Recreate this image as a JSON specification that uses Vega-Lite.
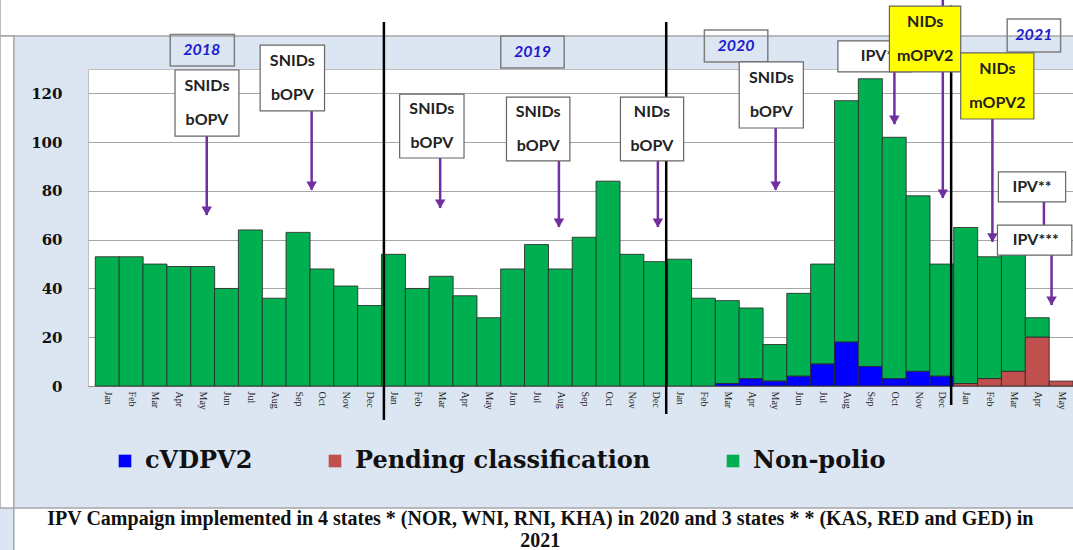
{
  "$schema": "https://vega.github.io/schema/vega-lite/v6.json",
  "autosize": {"type": "none"},
  "width": 985,
  "height": 317,
  "padding": {"left": 88, "top": 69, "right": 0, "bottom": 164},
  "background": "#dce6f2",
  "config": {
    "view": {"fill": "white", "stroke": "#bfbfbf"},
    "axis": {"labelOverlap": false},
    "axisX": {"labelOverlap": false, "labelBound": false, "labelFlush": false}
  },
  "datasets": {
    "cases": [
      {"month": "2018-01", "t": 0, "cat": "Non-polio", "n": 53},
      {"month": "2018-02", "t": 1, "cat": "Non-polio", "n": 53},
      {"month": "2018-03", "t": 2, "cat": "Non-polio", "n": 50},
      {"month": "2018-04", "t": 3, "cat": "Non-polio", "n": 49},
      {"month": "2018-05", "t": 4, "cat": "Non-polio", "n": 49},
      {"month": "2018-06", "t": 5, "cat": "Non-polio", "n": 40},
      {"month": "2018-07", "t": 6, "cat": "Non-polio", "n": 64},
      {"month": "2018-08", "t": 7, "cat": "Non-polio", "n": 36},
      {"month": "2018-09", "t": 8, "cat": "Non-polio", "n": 63},
      {"month": "2018-10", "t": 9, "cat": "Non-polio", "n": 48},
      {"month": "2018-11", "t": 10, "cat": "Non-polio", "n": 41},
      {"month": "2018-12", "t": 11, "cat": "Non-polio", "n": 33},
      {"month": "2019-01", "t": 12, "cat": "Non-polio", "n": 54},
      {"month": "2019-02", "t": 13, "cat": "Non-polio", "n": 40},
      {"month": "2019-03", "t": 14, "cat": "Non-polio", "n": 45},
      {"month": "2019-04", "t": 15, "cat": "Non-polio", "n": 37},
      {"month": "2019-05", "t": 16, "cat": "Non-polio", "n": 28},
      {"month": "2019-06", "t": 17, "cat": "Non-polio", "n": 48},
      {"month": "2019-07", "t": 18, "cat": "Non-polio", "n": 58},
      {"month": "2019-08", "t": 19, "cat": "Non-polio", "n": 48},
      {"month": "2019-09", "t": 20, "cat": "Non-polio", "n": 61},
      {"month": "2019-10", "t": 21, "cat": "Non-polio", "n": 84},
      {"month": "2019-11", "t": 22, "cat": "Non-polio", "n": 54},
      {"month": "2019-12", "t": 23, "cat": "Non-polio", "n": 51},
      {"month": "2020-01", "t": 24, "cat": "Non-polio", "n": 52},
      {"month": "2020-02", "t": 25, "cat": "Non-polio", "n": 36},
      {"month": "2020-03", "t": 26, "cat": "Non-polio", "n": 34},
      {"month": "2020-03", "t": 26, "cat": "cVDPV2", "n": 1},
      {"month": "2020-04", "t": 27, "cat": "Non-polio", "n": 29},
      {"month": "2020-04", "t": 27, "cat": "cVDPV2", "n": 3},
      {"month": "2020-05", "t": 28, "cat": "Non-polio", "n": 15},
      {"month": "2020-05", "t": 28, "cat": "cVDPV2", "n": 2},
      {"month": "2020-06", "t": 29, "cat": "Non-polio", "n": 34},
      {"month": "2020-06", "t": 29, "cat": "cVDPV2", "n": 4},
      {"month": "2020-07", "t": 30, "cat": "Non-polio", "n": 41},
      {"month": "2020-07", "t": 30, "cat": "cVDPV2", "n": 9},
      {"month": "2020-08", "t": 31, "cat": "Non-polio", "n": 99},
      {"month": "2020-08", "t": 31, "cat": "cVDPV2", "n": 18},
      {"month": "2020-09", "t": 32, "cat": "Non-polio", "n": 118},
      {"month": "2020-09", "t": 32, "cat": "cVDPV2", "n": 8},
      {"month": "2020-10", "t": 33, "cat": "Non-polio", "n": 99},
      {"month": "2020-10", "t": 33, "cat": "cVDPV2", "n": 3},
      {"month": "2020-11", "t": 34, "cat": "Non-polio", "n": 72},
      {"month": "2020-11", "t": 34, "cat": "cVDPV2", "n": 6},
      {"month": "2020-12", "t": 35, "cat": "Non-polio", "n": 46},
      {"month": "2020-12", "t": 35, "cat": "cVDPV2", "n": 4},
      {"month": "2021-01", "t": 36, "cat": "Non-polio", "n": 64},
      {"month": "2021-01", "t": 36, "cat": "Pending classification", "n": 1},
      {"month": "2021-02", "t": 37, "cat": "Non-polio", "n": 50},
      {"month": "2021-02", "t": 37, "cat": "Pending classification", "n": 3},
      {"month": "2021-03", "t": 38, "cat": "Non-polio", "n": 48},
      {"month": "2021-03", "t": 38, "cat": "Pending classification", "n": 6},
      {"month": "2021-04", "t": 39, "cat": "Non-polio", "n": 8},
      {"month": "2021-04", "t": 39, "cat": "Pending classification", "n": 20},
      {"month": "2021-05", "t": 40, "cat": "Pending classification", "n": 2}
    ],
    "frame": [
      {"t1": -4.5, "t2": 41, "v1": 143.5, "v2": 175},
      {"t1": -4.5, "t2": -3.92, "v1": -50, "v2": 143.5},
      {"t1": -3.92, "t2": 41, "v1": -80, "v2": -50.03}
    ],
    "yearLines": [
      {"t": 11.6, "top": 149.3, "bottom": -13.9},
      {"t": 23.44, "top": 149.3, "bottom": -11.5},
      {"t": 35.39, "top": 156, "bottom": -7.8}
    ],
    "arrows": [
      {"t": 4.17, "from": 102.5, "to": 70.1},
      {"t": 8.57, "from": 112.8, "to": 80.4},
      {"t": 13.96, "from": 93.5, "to": 73.0},
      {"t": 18.94, "from": 92.3, "to": 65.2},
      {"t": 23.09, "from": 92.3, "to": 65.2},
      {"t": 28.03, "from": 105.8, "to": 80.4},
      {"t": 33.01, "from": 130.0, "to": 107.4},
      {"t": 35.04, "from": 158.3, "to": 77.1},
      {"t": 37.12, "from": 109.5, "to": 59.1},
      {"t": 39.28, "from": 75.5, "to": 60.0},
      {"t": 39.6, "from": 53.7, "to": 33.2}
    ],
    "years": [
      {"year": "2018", "t1": 2.64, "t2": 5.33, "v1": 131.2, "v2": 144.1, "tc": 3.96, "vc": 137.7},
      {"year": "2019", "t1": 16.5, "t2": 19.16, "v1": 130.4, "v2": 143.5, "tc": 17.83, "vc": 137.0},
      {"year": "2020", "t1": 25.04, "t2": 27.7, "v1": 132.9, "v2": 146.0, "tc": 26.37, "vc": 139.4},
      {"year": "2021", "t1": 37.74, "t2": 39.98, "v1": 137.0, "v2": 150.5, "tc": 38.86, "vc": 143.8}
    ],
    "campaigns": [
      {"label": "SNIDs\nbOPV", "t1": 2.84, "t2": 5.52, "v1": 102.5, "v2": 129.6, "tc": 4.18, "vc": 123.0},
      {"label": "SNIDs\nbOPV", "t1": 6.41, "t2": 9.11, "v1": 112.8, "v2": 139.8, "tc": 7.76, "vc": 133.3},
      {"label": "SNIDs\nbOPV", "t1": 12.26, "t2": 14.96, "v1": 93.5, "v2": 119.7, "tc": 13.61, "vc": 113.6},
      {"label": "SNIDs\nbOPV", "t1": 16.74, "t2": 19.4, "v1": 92.3, "v2": 118.5, "tc": 18.07, "vc": 112.4},
      {"label": "NIDs\nbOPV", "t1": 21.52, "t2": 24.17, "v1": 92.3, "v2": 118.5, "tc": 22.84, "vc": 112.4},
      {"label": "SNIDs\nbOPV", "t1": 26.5, "t2": 29.19, "v1": 105.8, "v2": 132.9, "tc": 27.85, "vc": 126.2},
      {"label": "IPV*", "t1": 30.64, "t2": 33.72, "v1": 128.8, "v2": 141.5, "tc": 32.28, "vc": 135.2},
      {"label": "IPV**", "t1": 37.37, "t2": 40.19, "v1": 75.5, "v2": 87.8, "tc": 38.78, "vc": 81.6},
      {"label": "IPV***", "t1": 37.33, "t2": 40.45, "v1": 53.7, "v2": 66.0, "tc": 38.94, "vc": 59.9}
    ],
    "mopv2": [
      {"label": "NIDs\nmOPV2", "t1": 32.8, "t2": 35.79, "v1": 128.8, "v2": 155.8, "tc": 34.3, "vc": 149.3},
      {"label": "NIDs\nmOPV2", "t1": 35.79, "t2": 38.86, "v1": 109.5, "v2": 136.6, "tc": 37.33, "vc": 130.0}
    ]
  },
  "layer": [
    {
      "data": {"name": "frame"},
      "mark": {"type": "rect", "fill": "white", "stroke": "#a6a6a6", "strokeWidth": 1.5, "clip": false},
      "encoding": {
        "x": {"field": "t1", "type": "quantitative", "scale": {"domain": [-0.6, 40.29], "nice": false, "zero": false}},
        "x2": {"field": "t2"},
        "y": {"field": "v1", "type": "quantitative", "scale": {"domain": [0, 130], "nice": false, "zero": false}},
        "y2": {"field": "v2"}
      }
    },
    {
      "data": {"name": "cases"},
      "mark": {"type": "bar", "width": 24, "stroke": "#2a2a2a", "strokeWidth": 1, "strokeOpacity": 0.85, "clip": false},
      "encoding": {
        "x": {
          "field": "t", "type": "quantitative",
          "scale": {"domain": [-0.6, 40.29], "nice": false, "zero": false},
          "axis": {
            "title": null,
            "values": [0,1,2,3,4,5,6,7,8,9,10,11,12,13,14,15,16,17,18,19,20,21,22,23,24,25,26,27,28,29,30,31,32,33,34,35,36,37,38,39,40],
            "tickCount": 60,
            "labelExpr": "['Jan','Feb','Mar','Apr','May','Jun','Jul','Aug','Sep','Oct','Nov','Dec'][datum.value % 12]",
            "labelAngle": 90,
            "labelFont": "Liberation Serif",
            "labelFontSize": 10,
            "labelColor": "#222222",
            "ticks": false,
            "labelPadding": 5,
            "domainColor": "#8c8c8c",
            "grid": false,
            "labelOverlap": false,
            "labelFlush": false,
            "labelBound": false,
            "labelSeparation": 0
          }
        },
        "y": {
          "field": "n", "type": "quantitative", "stack": "zero",
          "scale": {"domain": [0, 130], "nice": false, "zero": false},
          "axis": {
            "title": null,
            "values": [0, 20, 40, 60, 80, 100, 120],
            "grid": true,
            "gridColor": "#a6a6a6",
            "domain": false,
            "ticks": false,
            "labelPadding": 26,
            "labelFont": "DejaVu Serif",
            "labelFontWeight": "bold",
            "labelFontSize": 15,
            "labelColor": "#111111"
          }
        },
        "color": {
          "field": "cat", "type": "nominal",
          "scale": {"domain": ["cVDPV2", "Pending classification", "Non-polio"], "range": ["#0000ff", "#c0504d", "#00b050"]},
          "legend": {
            "title": null,
            "orient": "none",
            "direction": "horizontal",
            "legendX": 25,
            "legendY": 380,
            "symbolType": "square",
            "symbolSize": 160,
            "symbolStrokeWidth": 0,
            "labelFont": "DejaVu Serif",
            "labelFontWeight": "bold",
            "labelFontSize": 24,
            "labelColor": "#111111",
            "labelOffset": 8,
            "labelLimit": 500,
            "columnPadding": 70
          }
        },
        "order": {"field": "cat", "sort": "descending"}
      }
    },
    {
      "data": {"name": "yearLines"},
      "mark": {"type": "rule", "color": "#000000", "strokeWidth": 2.5, "clip": false},
      "encoding": {
        "x": {"field": "t", "type": "quantitative"},
        "y": {"field": "top", "type": "quantitative"},
        "y2": {"field": "bottom"}
      }
    },
    {
      "data": {"name": "arrows"},
      "mark": {"type": "rule", "color": "#7030a0", "strokeWidth": 2.5, "clip": false},
      "encoding": {
        "x": {"field": "t", "type": "quantitative"},
        "y": {"field": "from", "type": "quantitative"},
        "y2": {"field": "to"}
      }
    },
    {
      "data": {"name": "arrows"},
      "mark": {"type": "point", "shape": "triangle-down", "filled": true, "color": "#7030a0", "opacity": 1, "size": 110, "yOffset": -4, "clip": false},
      "encoding": {
        "x": {"field": "t", "type": "quantitative"},
        "y": {"field": "to", "type": "quantitative"}
      }
    },
    {
      "data": {"name": "years"},
      "mark": {"type": "rect", "fill": null, "fillOpacity": 0, "stroke": "#7f7f7f", "strokeWidth": 1.5, "clip": false},
      "encoding": {
        "x": {"field": "t1", "type": "quantitative"},
        "x2": {"field": "t2"},
        "y": {"field": "v1", "type": "quantitative"},
        "y2": {"field": "v2"}
      }
    },
    {
      "data": {"name": "years"},
      "mark": {"type": "text", "font": "Lato", "fontSize": 16, "fontWeight": "bold", "fontStyle": "italic", "color": "#1c1cd0", "align": "center", "baseline": "middle", "clip": false},
      "encoding": {
        "x": {"field": "tc", "type": "quantitative"},
        "y": {"field": "vc", "type": "quantitative"},
        "text": {"field": "year", "type": "nominal"}
      }
    },
    {
      "data": {"name": "campaigns"},
      "mark": {"type": "rect", "fill": "white", "stroke": "#666666", "strokeWidth": 1.2, "clip": false},
      "encoding": {
        "x": {"field": "t1", "type": "quantitative"},
        "x2": {"field": "t2"},
        "y": {"field": "v1", "type": "quantitative"},
        "y2": {"field": "v2"}
      }
    },
    {
      "data": {"name": "campaigns"},
      "mark": {"type": "text", "font": "Lato", "fontSize": 16, "fontWeight": "bold", "color": "#222222", "align": "center", "baseline": "middle", "lineBreak": "\n", "lineHeight": 34, "clip": false},
      "encoding": {
        "x": {"field": "tc", "type": "quantitative"},
        "y": {"field": "vc", "type": "quantitative"},
        "text": {"field": "label", "type": "nominal"}
      }
    },
    {
      "data": {"name": "mopv2"},
      "mark": {"type": "rect", "fill": "#ffff00", "stroke": "#666666", "strokeWidth": 1.2, "clip": false},
      "encoding": {
        "x": {"field": "t1", "type": "quantitative"},
        "x2": {"field": "t2"},
        "y": {"field": "v1", "type": "quantitative"},
        "y2": {"field": "v2"}
      }
    },
    {
      "data": {"name": "mopv2"},
      "mark": {"type": "text", "font": "Lato", "fontSize": 16, "fontWeight": "bold", "color": "#222222", "align": "center", "baseline": "middle", "lineBreak": "\n", "lineHeight": 34, "clip": false},
      "encoding": {
        "x": {"field": "tc", "type": "quantitative"},
        "y": {"field": "vc", "type": "quantitative"},
        "text": {"field": "label", "type": "nominal"}
      }
    },
    {
      "data": {"values": [{"caption": "IPV Campaign implemented  in 4 states * (NOR, WNI, RNI, KHA) in 2020 and 3 states * * (KAS, RED and GED) in\n2021"}]},
      "mark": {"type": "text", "font": "Liberation Serif", "fontSize": 20, "fontWeight": "bold", "color": "#111111", "align": "center", "baseline": "middle", "lineBreak": "\n", "lineHeight": 22, "clip": false},
      "encoding": {
        "x": {"datum": 18.16, "type": "quantitative"},
        "y": {"datum": -54.54, "type": "quantitative"},
        "text": {"field": "caption", "type": "nominal"}
      }
    }
  ]
}
